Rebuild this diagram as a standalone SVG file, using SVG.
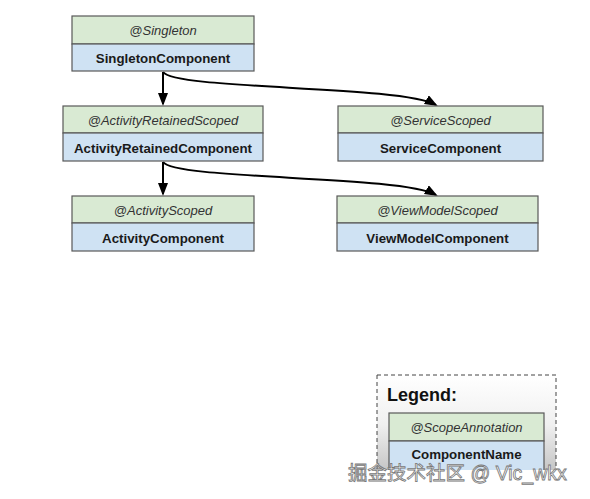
<svg xmlns="http://www.w3.org/2000/svg" width="590" height="499" viewBox="0 0 590 499">
<style>
.hd{fill:#d9ead3;stroke:#595959;stroke-width:1.2}
.nm{fill:#cfe2f3;stroke:#595959;stroke-width:1.2}
.sc{font-family:"Liberation Sans",Arial,sans-serif;font-style:italic;font-size:13px;fill:#333;text-anchor:middle}
.cn{font-family:"Liberation Sans",Arial,sans-serif;font-weight:bold;font-size:13.3px;fill:#1a1a1a;text-anchor:middle}
.edge{fill:none;stroke:#000;stroke-width:2}
</style>
<defs>
<marker id="ah" markerUnits="userSpaceOnUse" markerWidth="14" markerHeight="12" refX="11" refY="5" orient="auto">
<path d="M0,0 L13,5 L0,10 z" fill="#000"/>
</marker>
<linearGradient id="lg" x1="0" y1="0" x2="0" y2="1">
<stop offset="0" stop-color="#ffffff"/>
<stop offset="0.45" stop-color="#f0f0f0"/>
<stop offset="1" stop-color="#b8b8b8"/>
</linearGradient>
<clipPath id="cut"><rect x="0" y="0" width="590" height="470"/></clipPath>
</defs>
<rect width="590" height="499" fill="#fff"/>
<g id="connectors">
<path class="edge" d="M163,72 L163,104" marker-end="url(#ah)"/>
<path class="edge" d="M163,72 C175,90 400,85 436,105" marker-end="url(#ah)"/>
<path class="edge" d="M163,162 L163,194" marker-end="url(#ah)"/>
<path class="edge" d="M163,162 C175,180 400,175 436,195" marker-end="url(#ah)"/>
</g>
<g id="singleton">
<rect class="hd" x="72" y="16" width="182" height="28"/>
<rect class="nm" x="72" y="44" width="182" height="27"/>
<text class="sc" x="163" y="35">@Singleton</text>
<text class="cn" x="163" y="63">SingletonComponent</text>
</g>
<g id="activityRetained">
<rect class="hd" x="63" y="106" width="200" height="27"/>
<rect class="nm" x="63" y="133" width="200" height="28"/>
<text class="sc" x="163" y="124.5">@ActivityRetainedScoped</text>
<text class="cn" x="163" y="152.5">ActivityRetainedComponent</text>
</g>
<g id="service">
<rect class="hd" x="338" y="106" width="205" height="27"/>
<rect class="nm" x="338" y="133" width="205" height="28"/>
<text class="sc" x="440.5" y="124.5">@ServiceScoped</text>
<text class="cn" x="440.5" y="152.5">ServiceComponent</text>
</g>
<g id="activity">
<rect class="hd" x="72" y="196" width="182" height="27"/>
<rect class="nm" x="72" y="223" width="182" height="28"/>
<text class="sc" x="163" y="214.5">@ActivityScoped</text>
<text class="cn" x="163" y="242.5">ActivityComponent</text>
</g>
<g id="viewModel">
<rect class="hd" x="337" y="196" width="201" height="27"/>
<rect class="nm" x="337" y="223" width="201" height="28"/>
<text class="sc" x="437.5" y="214.5">@ViewModelScoped</text>
<text class="cn" x="437.5" y="242.5">ViewModelComponent</text>
</g>
<g id="legend" clip-path="url(#cut)">
<rect x="377" y="375" width="179" height="110" fill="url(#lg)" stroke="#444" stroke-width="1" stroke-dasharray="4,3"/>
<text x="387" y="401" font-family="'Liberation Sans',Arial,sans-serif" font-weight="bold" font-size="18" fill="#111">Legend:</text>
<rect class="hd" x="389" y="413" width="155" height="28"/>
<rect class="nm" x="389" y="441" width="155" height="40"/>
<text class="sc" x="466.5" y="431.5">@ScopeAnnotation</text>
<text class="cn" x="466.5" y="459">ComponentName</text>
</g>
<text x="348" y="480" font-family="'Liberation Sans','Noto Sans CJK SC',sans-serif" font-size="19.5" fill="#fff" stroke="#777" stroke-width="0.8">掘金技术社区 @ Vic_wkx</text>
</svg>
